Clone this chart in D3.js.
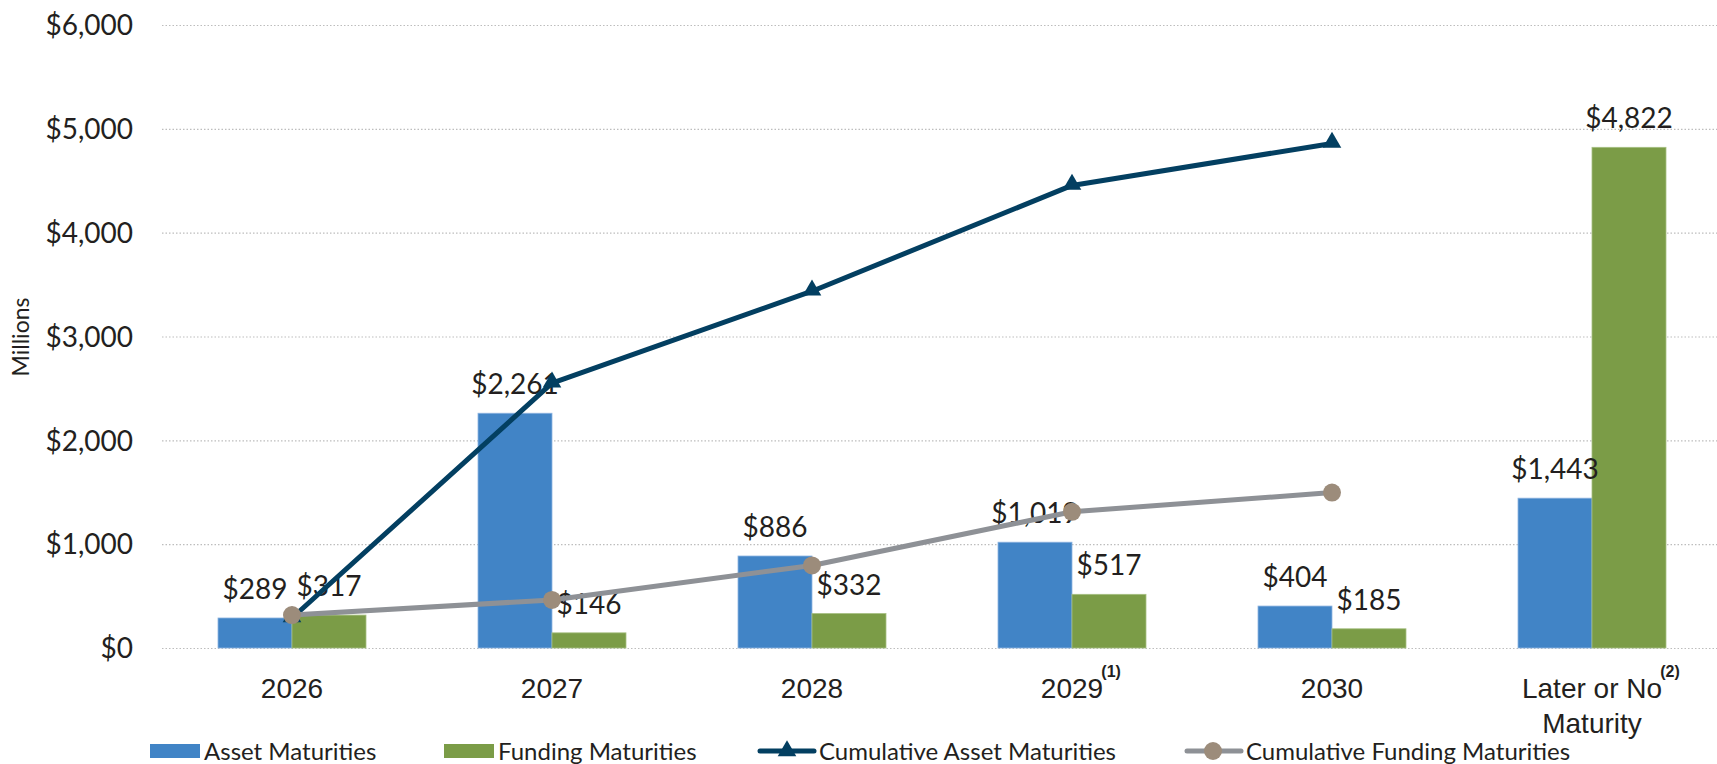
<!DOCTYPE html>
<html>
<head>
<meta charset="utf-8">
<script src="https://cdn.jsdelivr.net/npm/d3@7"></script>
<style>
  html, body { margin: 0; padding: 0; background: #fff; }
  svg { display: block; font-family: Lato, "Open Sans", sans-serif; }
  .tick text { fill: #231f20; }
</style>
</head>
<body>
<div id="chart"></div>
<script>
// values, in $ millions
const categories = ['2026', '2027', '2028', '2029', '2030', 'Later or No Maturity'];
const footnotes = ['', '', '', '(1)', '', '(2)'];
const assetMaturities = [289, 2261, 886, 1019, 404, 1443];
const fundingMaturities = [317, 146, 332, 517, 185, 4822];
const cumulativeAsset = [289, 2550, 3436, 4455, 4859];
const cumulativeFunding = [317, 463, 795, 1312, 1497];
const yTicks = [0, 1000, 2000, 3000, 4000, 5000, 6000];

const width = 1717, height = 764;
const colors = {asset: '#4184c6', funding: '#7b9c47', cumAsset: '#033f61', cumFunding: '#8e9196', dot: '#9c8c7b'};

let svg = d3.select('#chart').append('svg')
  .attr('width', width)
  .attr('height', height)

let x = d3.scaleBand().domain(categories).range([162, 1722]).paddingInner(0.4308).paddingOuter(0.2154)
let xs = d3.scaleBand().domain(['asset', 'funding']).range([0, x.bandwidth()])
let y = d3.scaleLinear().domain([0, 6000]).range([648, 25])

// gridlines
let grid = svg.append('g').attr('transform', 'translate(162,0)')
  .call(d3.axisLeft(y).tickValues(yTicks).tickSize(-(width - 162)).tickFormat(''))
grid.select('.domain').remove()
grid.selectAll('line').attr('stroke', '#bdbdbd').attr('stroke-width', 1.2).attr('stroke-dasharray', '1.5,2')

// y labels
let yAxis = svg.append('g').attr('transform', 'translate(162,0)')
  .call(d3.axisLeft(y).tickValues(yTicks).tickSize(0).tickPadding(29).tickFormat(d3.format('$,')))
yAxis.select('.domain').remove()
yAxis.selectAll('text').attr('font-size', 28).attr('font-family', 'Lato, sans-serif').attr('dy', '0.35em')

svg.append('text')
  .attr('transform', 'translate(29,337) rotate(-90)')
  .attr('text-anchor', 'middle')
  .attr('font-size', 23)
  .attr('fill', '#231f20')
  .text('Millions')

// bars
let groups = svg.append('g').selectAll('g')
  .data(categories)
  .enter()
  .append('g')
  .attr('transform', d => 'translate(' + x(d) + ',0)')

groups.append('rect')
  .attr('x', xs('asset'))
  .attr('width', xs.bandwidth())
  .attr('y', (d, i) => y(assetMaturities[i]))
  .attr('height', (d, i) => y(0) - y(assetMaturities[i]))
  .attr('fill', colors.asset)
  .attr('stroke', '#8db4e0').attr('stroke-width', 0.8)

groups.append('rect')
  .attr('x', xs('funding'))
  .attr('width', xs.bandwidth())
  .attr('y', (d, i) => y(fundingMaturities[i]))
  .attr('height', (d, i) => y(0) - y(fundingMaturities[i]))
  .attr('fill', colors.funding)
  .attr('stroke', '#a6bf82').attr('stroke-width', 0.8)

// cumulative lines
let cx = (d, i) => x(categories[i]) + x.bandwidth() / 2

let line = d3.line().x(cx).y(d => y(d))

svg.append('path').datum(cumulativeAsset)
  .attr('d', line)
  .attr('fill', 'none')
  .attr('stroke', colors.cumAsset)
  .attr('stroke-width', 5)
  .attr('stroke-linejoin', 'round')

svg.append('g').selectAll('path')
  .data(cumulativeAsset)
  .enter()
  .append('path')
  .attr('d', d3.symbol(d3.symbolTriangle, 150))
  .attr('transform', (d, i) => 'translate(' + cx(d, i) + ',' + (y(d) - 1) + ')')
  .attr('fill', colors.cumAsset)

svg.append('path').datum(cumulativeFunding)
  .attr('d', line)
  .attr('fill', 'none')
  .attr('stroke', colors.cumFunding)
  .attr('stroke-width', 5)
  .attr('stroke-linejoin', 'round')

svg.append('g').selectAll('circle')
  .data(cumulativeFunding)
  .enter()
  .append('circle')
  .attr('cx', cx)
  .attr('cy', d => y(d))
  .attr('r', 9)
  .attr('fill', colors.dot)

// data labels
let fmt = d3.format('$,')
groups.append('text')
  .attr('x', xs('asset') + xs.bandwidth() / 2)
  .attr('y', (d, i) => y(assetMaturities[i]) - 19)
  .attr('text-anchor', 'middle')
  .attr('font-size', 28)
  .attr('fill', '#231f20')
  .text((d, i) => fmt(assetMaturities[i]))

groups.append('text')
  .attr('x', xs('funding') + xs.bandwidth() / 2)
  .attr('y', (d, i) => y(fundingMaturities[i]) - 19)
  .attr('text-anchor', 'middle')
  .attr('font-size', 28)
  .attr('fill', '#231f20')
  .text((d, i) => fmt(fundingMaturities[i]))

// x labels
let xAxis = svg.append('g').attr('transform', 'translate(0,648)')
  .call(d3.axisBottom(x).tickSize(0).tickFormat(''))
xAxis.select('.domain').remove()

xAxis.selectAll('.tick').each(function (d, i) {
  let t = d3.select(this)
  let lines = d.startsWith('Later') ? ['Later or No', 'Maturity'] : [d]
  lines.forEach((l, j) => {
    let txt = t.append('text')
      .attr('y', 50 + j * 35)
      .attr('text-anchor', 'middle')
      .attr('font-size', 28)
      .attr('fill', '#231f20')
      .text(l)
    if (j === 0 && footnotes[i]) {
      let w = txt.node().getComputedTextLength()
      t.append('text')
        .attr('x', w / 2 + 8)
        .attr('y', 29)
        .attr('font-size', 16)
        .attr('font-weight', 'bold')
        .attr('fill', '#231f20')
        .text(footnotes[i])
    }
  })
})

// legend
let legendItems = [
  {label: 'Asset Maturities', type: 'bar', color: colors.asset, x: 150},
  {label: 'Funding Maturities', type: 'bar', color: colors.funding, x: 444},
  {label: 'Cumulative Asset Maturities', type: 'tri', color: colors.cumAsset, x: 758},
  {label: 'Cumulative Funding Maturities', type: 'dot', color: colors.cumFunding, x: 1185}
]

let legend = svg.append('g').attr('transform', 'translate(0,751)')
let items = legend.selectAll('g').data(legendItems).enter().append('g')
  .attr('transform', d => 'translate(' + d.x + ',0)')

items.filter(d => d.type === 'bar').append('rect')
  .attr('x', 0).attr('y', -7).attr('width', 50).attr('height', 14)
  .attr('fill', d => d.color)

items.filter(d => d.type !== 'bar').append('line')
  .attr('x1', 2).attr('x2', 56).attr('y1', 0).attr('y2', 0)
  .attr('stroke', d => d.color).attr('stroke-width', 5).attr('stroke-linecap', 'round')

items.filter(d => d.type === 'tri').append('path')
  .attr('d', d3.symbol(d3.symbolTriangle, 150))
  .attr('transform', 'translate(29,0)')
  .attr('fill', d => d.color)

items.filter(d => d.type === 'dot').append('circle')
  .attr('cx', 28).attr('cy', 0).attr('r', 9)
  .attr('fill', colors.dot)

items.append('text')
  .attr('x', d => d.type === 'bar' ? 54 : 61)
  .attr('y', 9)
  .attr('font-size', 24)
  .attr('fill', '#231f20')
  .text(d => d.label)
</script>
</body>
</html>
